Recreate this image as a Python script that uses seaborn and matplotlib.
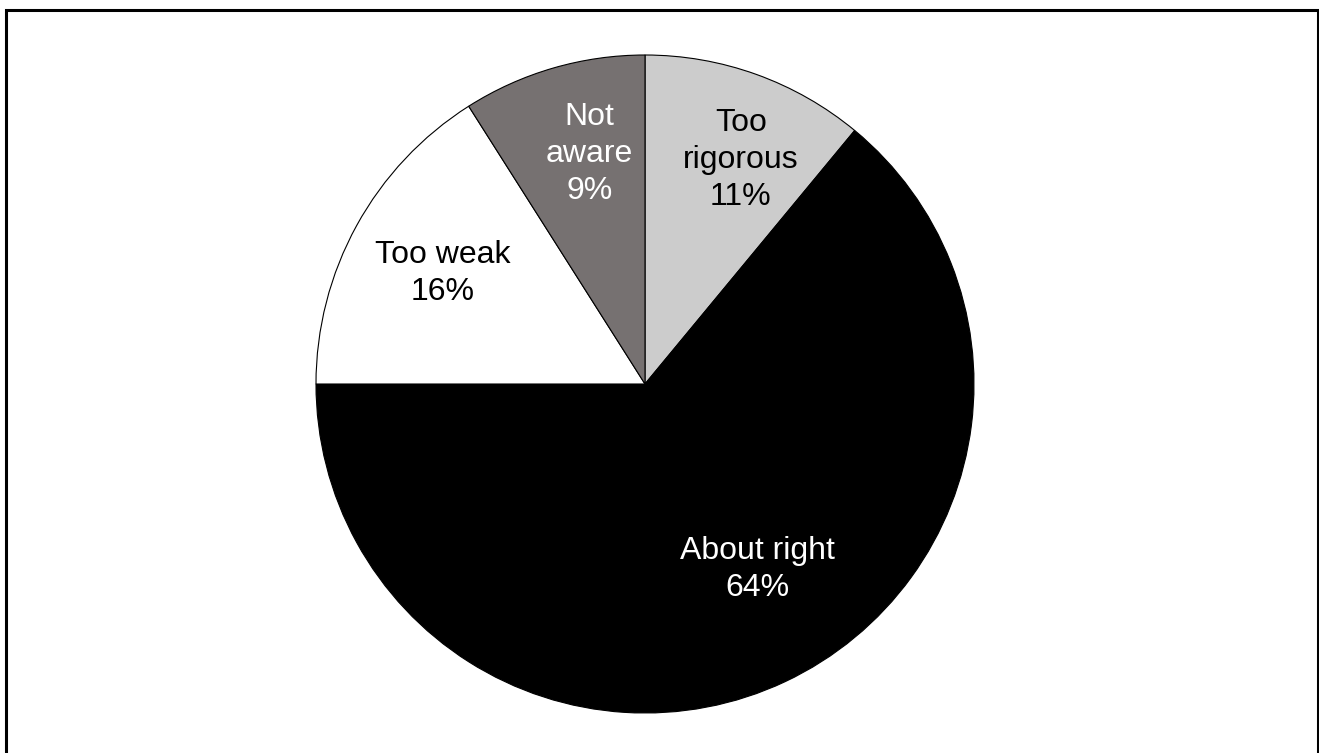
import matplotlib
matplotlib.use("Agg")
import matplotlib.pyplot as plt
import seaborn as sns
import numpy as np
from matplotlib.patches import Rectangle

# Data
categories = ["Too rigorous", "About right", "Too weak", "Not aware"]
values = [11, 64, 16, 9]
label_texts = ["Too\nrigorous\n11%", "About right\n64%", "Too weak\n16%", "Not\naware\n9%"]

# Styles
colors = ["#cccccc", "#000000", "#ffffff", "#767171"]
text_colors = ["black", "white", "black", "white"]
# label placement (polar, relative to pie centre): angle in degrees, radius fraction
label_polar = [(66.8, 0.74), (-58.8, 0.66), (151.4, 0.70), (103.5, 0.72)]

sns.set_theme(style="white")
plt.rcParams["font.family"] = ["Liberation Sans", "DejaVu Sans"]

W, H = 1319, 753
fig = plt.figure(figsize=(W / 100, H / 100), dpi=100)
ax = fig.add_axes([0, 0, 1, 1])
ax.set_xlim(0, W)
ax.set_ylim(0, H)
ax.set_aspect("equal")
ax.axis("off")

cx, cy, R = 645, H - 384, 329
wedges, _ = ax.pie(values, colors=colors, startangle=90, counterclock=False,
                   center=(cx, cy), radius=R, frame=True,
                   wedgeprops=dict(edgecolor="black", linewidth=0.8))
ax.set_xlim(0, W)
ax.set_ylim(0, H)
ax.axis("off")

for txt, col, (ang, rf) in zip(label_texts, text_colors, label_polar):
    a = np.deg2rad(ang)
    ax.text(cx + rf * R * np.cos(a), cy + rf * R * np.sin(a), txt,
            ha="center", va="center", fontsize=23, color=col,
            linespacing=1.3, multialignment="center")

# outer frame
fig.patches.append(Rectangle((6 / W, -20 / H), (1317.5 - 6) / W, (743 + 20) / H,
                             transform=fig.transFigure, fill=False,
                             edgecolor="black", linewidth=2.2))

fig.savefig("out.png", dpi=100)
